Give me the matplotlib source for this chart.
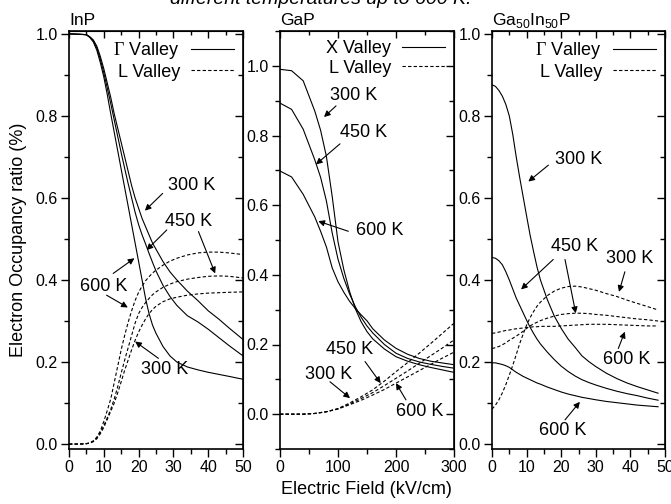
import matplotlib
matplotlib.use("Agg")
import matplotlib.pyplot as plt
from matplotlib.lines import Line2D
from matplotlib.ticker import MultipleLocator

plt.rcParams["font.family"] = ["Liberation Sans", "DejaVu Sans"]
plt.rcParams["mathtext.fontset"] = "custom"
plt.rcParams["mathtext.rm"] = "Liberation Serif"
plt.rcParams["mathtext.sf"] = "Liberation Sans"

# ---- InP (field 0-50 kV/cm) ----
inp_x = [0, 3, 5, 6, 7, 8, 9, 10, 11, 12, 13, 14, 15, 16, 17, 18, 19, 20, 21, 22,
         23, 24, 25, 27, 29, 31, 34, 37, 40, 43, 46, 50]
inp_g300 = [1.0, 0.999, 0.998, 0.993, 0.985, 0.97, 0.945, 0.915, 0.88, 0.845, 0.805, 0.77,
            0.735, 0.70, 0.665, 0.63, 0.60, 0.575, 0.55, 0.53, 0.51, 0.49, 0.475, 0.445,
            0.42, 0.40, 0.373, 0.35, 0.325, 0.305, 0.283, 0.255]
inp_g450 = [1.0, 0.999, 0.998, 0.992, 0.983, 0.965, 0.938, 0.905, 0.868, 0.83, 0.79, 0.75,
            0.71, 0.672, 0.635, 0.60, 0.565, 0.535, 0.51, 0.488, 0.465, 0.443, 0.422, 0.387,
            0.36, 0.338, 0.313, 0.298, 0.28, 0.26, 0.24, 0.215]
inp_g600 = [1.0, 0.999, 0.998, 0.991, 0.98, 0.96, 0.93, 0.895, 0.852, 0.805, 0.76, 0.715,
            0.67, 0.625, 0.58, 0.535, 0.49, 0.445, 0.40, 0.355, 0.318, 0.29, 0.27, 0.238,
            0.215, 0.20, 0.188, 0.181, 0.175, 0.17, 0.165, 0.158]
inp_l300 = [0, 0, 0.001, 0.002, 0.006, 0.013, 0.025, 0.041, 0.06, 0.08, 0.10, 0.125,
            0.152, 0.18, 0.205, 0.23, 0.253, 0.273, 0.29, 0.305, 0.318, 0.328, 0.336, 0.347,
            0.354, 0.358, 0.363, 0.366, 0.368, 0.369, 0.37, 0.371]
inp_l450 = [0, 0, 0.001, 0.003, 0.007, 0.015, 0.028, 0.045, 0.064, 0.085, 0.11, 0.14,
            0.173, 0.205, 0.235, 0.265, 0.295, 0.318, 0.333, 0.345, 0.355, 0.364, 0.371, 0.382,
            0.39, 0.396, 0.402, 0.406, 0.409, 0.41, 0.409, 0.405]
inp_l600 = [0, 0, 0.001, 0.003, 0.008, 0.017, 0.032, 0.055, 0.082, 0.11, 0.15, 0.19,
            0.23, 0.265, 0.297, 0.325, 0.35, 0.37, 0.385, 0.398, 0.408, 0.417, 0.424, 0.436,
            0.446, 0.453, 0.461, 0.466, 0.468, 0.468, 0.466, 0.462]

# ---- GaP (field 0-300 kV/cm) ----
gap_x = [0, 20, 40, 60, 70, 80, 90, 100, 110, 120, 130, 140, 150, 160, 180, 200,
         220, 240, 260, 280, 300]
gap_x300 = [0.99, 0.986, 0.957, 0.87, 0.815, 0.74, 0.625, 0.495, 0.415, 0.352, 0.302,
            0.265, 0.237, 0.216, 0.187, 0.165, 0.152, 0.142, 0.134, 0.127, 0.12]
gap_x450 = [0.893, 0.875, 0.818, 0.73, 0.68, 0.612, 0.52, 0.445, 0.39, 0.345, 0.308,
            0.278, 0.253, 0.233, 0.20, 0.175, 0.16, 0.15, 0.143, 0.137, 0.132]
gap_x600 = [0.698, 0.681, 0.631, 0.566, 0.525, 0.48, 0.42, 0.38, 0.35, 0.324, 0.303,
            0.285, 0.268, 0.245, 0.213, 0.189, 0.172, 0.16, 0.152, 0.147, 0.142]
gapl_x = [0, 20, 40, 60, 80, 100, 120, 140, 160, 180, 200, 220, 240, 260, 280, 300]
gap_l300 = [0, 0, 0, 0.002, 0.007, 0.016, 0.032, 0.05, 0.07, 0.095, 0.122, 0.148,
            0.175, 0.203, 0.232, 0.261]
gap_l450 = [0, 0, 0, 0.002, 0.007, 0.015, 0.029, 0.045, 0.062, 0.082, 0.103, 0.124,
            0.146, 0.168, 0.19, 0.213]
gap_l600 = [0, 0, 0, 0.002, 0.007, 0.015, 0.027, 0.04, 0.055, 0.071, 0.089, 0.107,
            0.125, 0.143, 0.161, 0.178]

# ---- Ga50In50P (field 0-50 kV/cm) ----
gip_x = [0, 1, 2, 3, 4, 5, 6, 7, 8, 9, 10, 11, 12, 13, 14, 16, 18, 20, 22, 24, 26,
         28, 30, 33, 36, 39, 42, 45, 48]
gip_g300 = [0.876, 0.872, 0.862, 0.848, 0.828, 0.80, 0.755, 0.70, 0.65, 0.603, 0.556,
            0.51, 0.47, 0.432, 0.40, 0.352, 0.312, 0.282, 0.256, 0.236, 0.215, 0.201,
            0.189, 0.173, 0.16, 0.149, 0.14, 0.132, 0.124]
gip_g450 = [0.455, 0.453, 0.447, 0.437, 0.42, 0.40, 0.378, 0.356, 0.338, 0.32, 0.302,
            0.285, 0.27, 0.256, 0.244, 0.224, 0.206, 0.19, 0.177, 0.166, 0.157, 0.15,
            0.144, 0.136, 0.129, 0.123, 0.118, 0.112, 0.107]
gip_g600 = [0.198, 0.198, 0.196, 0.194, 0.191, 0.187, 0.181, 0.175, 0.17, 0.165, 0.161,
            0.157, 0.153, 0.149, 0.146, 0.139, 0.133, 0.127, 0.122, 0.118, 0.114, 0.111,
            0.108, 0.104, 0.101, 0.098, 0.095, 0.093, 0.091]
gip_l300 = [0.085, 0.095, 0.108, 0.125, 0.145, 0.168, 0.192, 0.218, 0.245, 0.268, 0.29,
            0.308, 0.323, 0.336, 0.346, 0.362, 0.373, 0.38, 0.384, 0.385, 0.383, 0.379,
            0.375, 0.367, 0.36, 0.351, 0.343, 0.335, 0.327]
gip_l450 = [0.233, 0.235, 0.238, 0.242, 0.247, 0.253, 0.258, 0.263, 0.269, 0.275, 0.282,
            0.288, 0.293, 0.297, 0.301, 0.307, 0.312, 0.316, 0.318, 0.319, 0.319, 0.318,
            0.316, 0.314, 0.311, 0.308, 0.305, 0.303, 0.30]
gip_l600 = [0.27, 0.271, 0.273, 0.275, 0.277, 0.278, 0.28, 0.281, 0.282, 0.283, 0.284,
            0.285, 0.286, 0.286, 0.287, 0.287, 0.287, 0.288, 0.289, 0.29, 0.291, 0.292,
            0.292, 0.292, 0.291, 0.29, 0.289, 0.288, 0.288]

# annotations: (text, text_x, text_y, [(tail_x, tail_y, head_x, head_y), ...])
inp_notes = [("300 K", 35.3, 0.63, [(26.9, 0.611, 21.8, 0.569)]),
             ("450 K", 34.3, 0.542, [(28.1, 0.522, 22.3, 0.473), (37.2, 0.518, 42.0, 0.416)]),
             ("600 K", 9.9, 0.385, [(12.7, 0.416, 18.8, 0.453), (10.8, 0.363, 16.9, 0.333)]),
             ("300 K", 27.6, 0.182, [(25.7, 0.209, 19.0, 0.25)])]
gap_notes = [("300 K", 127.6, 0.916, [(96.6, 0.885, 75.9, 0.853)]),
             ("450 K", 143.7, 0.81, [(103.4, 0.776, 62.0, 0.717)]),
             ("600 K", 172.4, 0.528, [(117.8, 0.525, 66.0, 0.554)]),
             ("450 K", 120.7, 0.185, [(146.6, 0.151, 173.6, 0.089)]),
             ("300 K", 83.3, 0.115, [(86.2, 0.093, 120.7, 0.046)]),
             ("600 K", 241.4, 0.007, [(217.2, 0.041, 200.0, 0.089)])]
gip_notes = [("300 K", 24.9, 0.694, [(16.3, 0.68, 10.5, 0.64)]),
             ("450 K", 23.8, 0.481, [(17.7, 0.45, 8.4, 0.377), (21.1, 0.45, 24.2, 0.319)]),
             ("300 K", 39.9, 0.453, [(38.4, 0.42, 36.7, 0.371)]),
             ("600 K", 38.9, 0.207, [(36.5, 0.233, 38.4, 0.274)]),
             ("600 K", 20.4, 0.034, [(21.1, 0.059, 25.4, 0.103)])]

DASH = (0, (3, 2))
LW = 0.8

fig = plt.figure(figsize=(6.71, 5.04), dpi=100)
bot, hgt = 55 / 504, 418 / 504
ax1 = fig.add_axes([69 / 671, bot, 174 / 671, hgt])
ax2 = fig.add_axes([280 / 671, bot, 174 / 671, hgt])
ax3 = fig.add_axes([492 / 671, bot, 173 / 671, hgt])


def style(ax, xmaj, xmin, xlim, ylim):
    ax.set_xlim(*xlim)
    ax.set_ylim(*ylim)
    for s in ax.spines.values():
        s.set_linewidth(1.2)
    ax.xaxis.set_major_locator(MultipleLocator(xmaj))
    ax.xaxis.set_minor_locator(MultipleLocator(xmin))
    ax.yaxis.set_major_locator(MultipleLocator(0.2))
    ax.yaxis.set_minor_locator(MultipleLocator(0.1))
    ax.tick_params(which="both", direction="out", width=1.0, labelsize=11.5, pad=2)
    ax.tick_params(which="major", length=6)
    ax.tick_params(which="minor", length=3.5)
    ax.yaxis.set_major_formatter(plt.FormatStrFormatter("%.1f"))
    top = ax.secondary_xaxis("top")
    top.xaxis.set_major_locator(MultipleLocator(xmaj))
    top.xaxis.set_minor_locator(MultipleLocator(xmin))
    top.tick_params(which="both", direction="in", labeltop=False, width=1.0)
    top.tick_params(which="major", length=5)
    top.tick_params(which="minor", length=3)
    rgt = ax.secondary_yaxis("right")
    rgt.yaxis.set_major_locator(MultipleLocator(0.2))
    rgt.yaxis.set_minor_locator(MultipleLocator(0.1))
    rgt.tick_params(which="both", direction="in", labelright=False, width=1.0)
    rgt.tick_params(which="major", length=6)
    rgt.tick_params(which="minor", length=3.5)


def notes(ax, items):
    for txt, tx, ty, arrows in items:
        ax.text(tx, ty, txt, ha="center", va="center", fontsize=13)
        for x0, y0, x1, y1 in arrows:
            ax.annotate("", xy=(x1, y1), xytext=(x0, y0),
                        arrowprops=dict(arrowstyle="-|>", color="k", lw=0.8,
                                        mutation_scale=9, shrinkA=0, shrinkB=0))


def legend(ax, first):
    h = [Line2D([], [], color="k", lw=LW), Line2D([], [], color="k", lw=LW, ls=DASH)]
    ax.legend(h, [first, "L Valley"], loc="upper right", frameon=False, markerfirst=False,
              fontsize=13, handlelength=2.4, handletextpad=0.6, labelspacing=0.15,
              borderaxespad=0.3, borderpad=0.2)


# InP
for y in (inp_g300, inp_g450, inp_g600):
    ax1.plot(inp_x, y, color="k", lw=LW)
for y in (inp_l300, inp_l450, inp_l600):
    ax1.plot(inp_x, y, color="k", lw=LW, ls=DASH)
style(ax1, 10, 5, (0, 50), (-0.012, 1.007))
legend(ax1, r"$\Gamma$ Valley")
notes(ax1, inp_notes)
ax1.set_title("InP", loc="left", fontsize=12.5, pad=4)

# GaP
for y in (gap_x300, gap_x450, gap_x600):
    ax2.plot(gap_x, y, color="k", lw=LW)
for y in (gap_l300, gap_l450, gap_l600):
    ax2.plot(gapl_x, y, color="k", lw=LW, ls=DASH)
style(ax2, 100, 50, (0, 300), (-0.1, 1.1))
legend(ax2, "X Valley")
notes(ax2, gap_notes)
ax2.set_title("GaP", loc="left", fontsize=12.5, pad=4)

# Ga50In50P
for y in (gip_g300, gip_g450, gip_g600):
    ax3.plot(gip_x, y, color="k", lw=LW)
for y in (gip_l300, gip_l450, gip_l600):
    ax3.plot(gip_x, y, color="k", lw=LW, ls=DASH)
style(ax3, 10, 5, (0, 50), (-0.012, 1.007))
legend(ax3, r"$\Gamma$ Valley")
notes(ax3, gip_notes)
ax3.set_title(r"Ga$_{\mathsf{50}}$In$_{\mathsf{50}}$P", loc="left", fontsize=12.5, pad=4)

fig.text(19 / 671, 1 - 240 / 504, "Electron Occupancy ratio (%)", rotation=90,
         ha="center", va="center", fontsize=13)
fig.text(366 / 671, 1 - 490 / 504, "Electric Field (kV/cm)", ha="center", va="center",
         fontsize=13)
fig.text(321 / 671, 1 - 4 / 504, "different temperatures up to 600 K.", ha="center",
         va="baseline", style="italic", fontsize=14)

fig.savefig("out.png", dpi=100)
